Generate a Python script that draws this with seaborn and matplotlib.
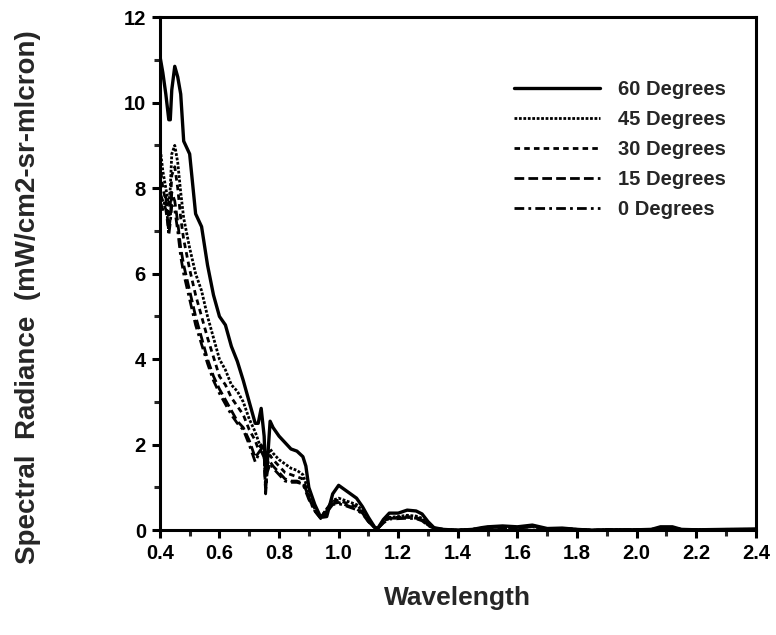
import matplotlib
matplotlib.use("Agg")
import matplotlib.pyplot as plt
import seaborn as sns
import pandas as pd
from matplotlib.ticker import MultipleLocator, FormatStrFormatter

wavelength = [0.40, 0.41, 0.42, 0.43, 0.435, 0.44, 0.45, 0.46, 0.47, 0.48,
              0.50, 0.52, 0.54, 0.56, 0.58, 0.60, 0.62, 0.64, 0.66, 0.68,
              0.70, 0.72, 0.73, 0.74, 0.75, 0.755, 0.76, 0.77, 0.78, 0.80,
              0.82, 0.84, 0.86, 0.88, 0.89, 0.90, 0.92, 0.94, 0.96, 0.98,
              1.00, 1.02, 1.04, 1.06, 1.08, 1.10, 1.12, 1.13, 1.15, 1.17,
              1.20, 1.23, 1.26, 1.28, 1.30, 1.32, 1.35, 1.40, 1.45, 1.48,
              1.50, 1.55, 1.60, 1.65, 1.70, 1.75, 1.80, 1.85, 1.90, 2.00,
              2.05, 2.08, 2.12, 2.15, 2.20, 2.30, 2.40]

deg60 = [11.1, 10.7, 10.2, 9.6, 9.6, 10.3, 10.85, 10.6, 10.2, 9.1,
         8.8, 7.4, 7.1, 6.2, 5.5, 5.0, 4.8, 4.3, 3.95, 3.5,
         3.0, 2.5, 2.5, 2.85, 2.2, 1.3, 1.5, 2.55, 2.4, 2.2,
         2.05, 1.9, 1.85, 1.72, 1.5, 1.0, 0.6, 0.3, 0.32, 0.85,
         1.05, 0.95, 0.85, 0.75, 0.55, 0.3, 0.08, 0.03, 0.25, 0.4,
         0.4, 0.47, 0.45, 0.38, 0.2, 0.06, 0.02, 0.0, 0.02, 0.06,
         0.08, 0.1, 0.08, 0.12, 0.04, 0.05, 0.02, 0.0, 0.01, 0.01,
         0.02, 0.08, 0.08, 0.02, 0.01, 0.02, 0.03]

deg45 = [9.0, 8.4, 8.0, 7.6, 8.0, 8.8, 9.0, 8.6, 7.9, 7.3,
         6.6, 6.0, 5.6, 5.0, 4.5, 4.0, 3.75, 3.4, 3.25, 3.0,
         2.6, 2.3, 2.1, 1.9, 2.0, 1.5, 1.7, 1.9, 1.8, 1.65,
         1.55, 1.45, 1.4, 1.3, 1.1, 0.85, 0.5, 0.3, 0.5, 0.7,
         0.75, 0.7, 0.65, 0.6, 0.45, 0.25, 0.08, 0.04, 0.2, 0.3,
         0.32, 0.35, 0.33, 0.28, 0.15, 0.05, 0.02, 0.0, 0.02, 0.05,
         0.07, 0.08, 0.07, 0.1, 0.03, 0.04, 0.02, 0.0, 0.01, 0.01,
         0.02, 0.06, 0.06, 0.02, 0.01, 0.02, 0.02]

deg30 = [8.6, 8.0, 7.7, 7.3, 7.6, 8.3, 8.5, 8.0, 7.3, 6.8,
         6.1, 5.5, 5.0, 4.5, 4.05, 3.6, 3.4, 3.1, 2.9, 2.7,
         2.35, 2.1, 1.9, 2.0, 1.8, 1.1, 1.5, 1.75, 1.65, 1.5,
         1.35, 1.3, 1.25, 1.2, 1.0, 0.8, 0.5, 0.3, 0.5, 0.68,
         0.7, 0.65, 0.6, 0.55, 0.42, 0.22, 0.07, 0.04, 0.2, 0.3,
         0.3, 0.32, 0.3, 0.25, 0.13, 0.05, 0.02, 0.0, 0.02, 0.05,
         0.06, 0.07, 0.06, 0.09, 0.03, 0.04, 0.02, 0.0, 0.01, 0.01,
         0.02, 0.05, 0.05, 0.02, 0.01, 0.01, 0.02]

deg15 = [7.9, 7.7, 7.5, 7.0, 7.3, 7.9, 7.7, 7.2, 6.6, 6.2,
         5.6, 5.0, 4.5, 4.0, 3.6, 3.3, 3.05, 2.8, 2.55, 2.4,
         2.1, 1.7, 1.8, 1.9, 1.75, 0.9, 1.4, 1.6, 1.5, 1.35,
         1.2, 1.15, 1.15, 1.1, 0.95, 0.75, 0.45, 0.28, 0.45, 0.62,
         0.65, 0.6, 0.55, 0.5, 0.4, 0.2, 0.06, 0.03, 0.18, 0.28,
         0.28, 0.3, 0.28, 0.24, 0.12, 0.04, 0.02, 0.0, 0.02, 0.04,
         0.06, 0.07, 0.06, 0.08, 0.03, 0.03, 0.02, 0.0, 0.01, 0.01,
         0.02, 0.05, 0.05, 0.02, 0.01, 0.01, 0.02]

deg0 = [7.7, 7.5, 7.8, 6.9, 7.2, 7.6, 7.5, 7.0, 6.4, 6.0,
        5.4, 4.8, 4.35, 3.9, 3.5, 3.2, 2.95, 2.7, 2.5, 2.35,
        2.0, 1.6, 1.75, 1.85, 1.7, 0.85, 1.35, 1.55, 1.45, 1.3,
        1.15, 1.12, 1.12, 1.08, 0.9, 0.72, 0.45, 0.27, 0.42, 0.6,
        0.62, 0.58, 0.53, 0.48, 0.38, 0.2, 0.06, 0.03, 0.17, 0.26,
        0.27, 0.28, 0.27, 0.22, 0.11, 0.04, 0.02, 0.0, 0.02, 0.04,
        0.05, 0.06, 0.05, 0.08, 0.03, 0.03, 0.02, 0.0, 0.01, 0.01,
        0.02, 0.05, 0.05, 0.02, 0.01, 0.01, 0.02]

labels = ["60 Degrees", "45 Degrees", "30 Degrees", "15 Degrees", "0 Degrees"]
series = [deg60, deg45, deg30, deg15, deg0]

rows = []
for lab, vals in zip(labels, series):
    for w, v in zip(wavelength, vals):
        rows.append({"Wavelength": w, "Radiance": v, "Angle": lab})
df = pd.DataFrame(rows)

sns.set_style("white")
plt.rcParams['font.family'] = ['Liberation Sans', 'DejaVu Sans']
plt.rcParams['font.weight'] = 'bold'

fig = plt.figure(figsize=(7.76, 6.35), dpi=100)
ax = fig.add_axes([0.206, 0.165, 0.768, 0.808])

dash_map = {
    "60 Degrees": "",
    "45 Degrees": (1, 0.6),
    "30 Degrees": (2, 1.5),
    "15 Degrees": (3.5, 1.5),
    "0 Degrees": (3.5, 1.5, 1, 1.5),
}
widths = {"60 Degrees": 2.4, "45 Degrees": 2.0, "30 Degrees": 2.0,
          "15 Degrees": 2.0, "0 Degrees": 2.0}

for lab in labels:
    sub = df[df["Angle"] == lab]
    sns.lineplot(data=sub, x="Wavelength", y="Radiance", ax=ax,
                 color="black", lw=widths[lab], label=lab)
    line = ax.lines[-1]
    if dash_map[lab]:
        line.set_dashes(dash_map[lab])

ax.xaxis.set_major_locator(MultipleLocator(0.2))
ax.xaxis.set_minor_locator(MultipleLocator(0.1))
ax.xaxis.set_major_formatter(FormatStrFormatter("%.1f"))
ax.yaxis.set_major_locator(MultipleLocator(2))
ax.yaxis.set_minor_locator(MultipleLocator(1))
ax.set_xlim(0.4, 2.4)
ax.set_ylim(0, 12)

for s in ax.spines.values():
    s.set_linewidth(2.2)
    s.set_color("black")

ax.tick_params(axis="both", which="major", direction="out", length=6, width=2.2,
               labelsize=14.5, colors="black", bottom=True, left=True, pad=4)
ax.tick_params(axis="both", which="minor", direction="out", length=4, width=2.2,
               bottom=True, left=True)
for t in ax.get_xticklabels() + ax.get_yticklabels():
    t.set_fontweight("bold")

ax.set_xlabel("Wavelength", fontsize=19, fontweight="bold")
ax.xaxis.set_label_coords(0.50, -0.108)
ax.set_ylabel("Spectral  Radiance  (mW/cm2-sr-mlcron)", fontsize=20,
              fontweight="bold")
ax.yaxis.set_label_coords(-0.2, 0.455)

leg = ax.legend(loc="upper left", bbox_to_anchor=(0.58, 0.893), frameon=False,
                fontsize=14.5, handlelength=4.3, handletextpad=0.9,
                labelspacing=0.55, borderaxespad=0)
for t in leg.get_texts():
    t.set_fontweight("bold")

fig.savefig("out.png", dpi=100, facecolor="white")
